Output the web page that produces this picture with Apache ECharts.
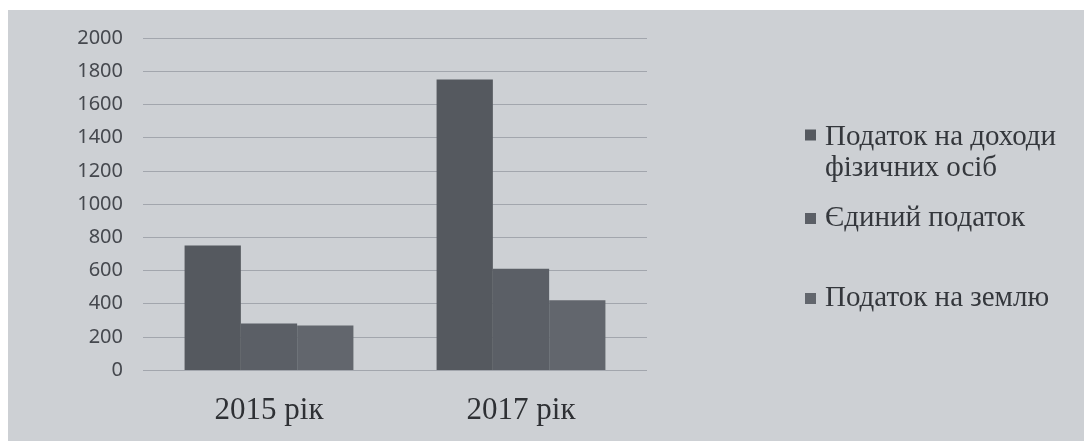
<!DOCTYPE html>
<html>
<head>
<meta charset="utf-8">
<script src="https://cdn.jsdelivr.net/npm/echarts@6/dist/echarts.min.js"></script>
<style>
  html, body { margin: 0; padding: 0; background: #ffffff; }
  #chart { width: 1084px; height: 441px; }
</style>
</head>
<body>
<div id="chart"></div>
<script>
var categories = ['2015 рік', '2017 рік'];
var seriesNames = ['Податок на доходи фізичних осіб', 'Єдиний податок', 'Податок на землю'];
var incomeTax = [750, 1750];
var singleTax = [280, 610];
var landTax = [268, 420];
var yTicks = [0, 200, 400, 600, 800, 1000, 1200, 1400, 1600, 1800, 2000];

var chart = echarts.init(document.getElementById('chart'));

// квадратик легенди, притиснутий до верхнього рядка тексту
var topSquare = 'path://M0,0L10,0L10,10L0,10Z M0,42.7L0.01,42.7L0.01,42.71Z';

var legendText = {
    fontFamily: 'Liberation Serif',
    fontSize: 29,
    color: '#34373c',
    lineHeight: 31,
    padding: [0, 0, 0, 4]
};

var option = {
    backgroundColor: '#ffffff',
    graphic: [{
        type: 'rect',
        z: -10,
        shape: { x: 8, y: 10, width: 1076, height: 431 },
        style: { fill: '#cdd0d4' },
        silent: true
    }],
    grid: { left: 143, right: 437, top: 38, bottom: 71 },
    legend: [
        {
            data: [seriesNames[0]],
            left: 800, top: 117,
            itemWidth: 11, itemHeight: 47,
            icon: topSquare,
            formatter: function () { return 'Податок на доходи\nфізичних осіб'; },
            textStyle: legendText
        },
        {
            data: [seriesNames[1]],
            left: 800, top: 198,
            itemWidth: 11, itemHeight: 11,
            icon: 'rect',
            textStyle: legendText
        },
        {
            data: [seriesNames[2]],
            left: 800, top: 278,
            itemWidth: 11, itemHeight: 11,
            icon: 'rect',
            textStyle: legendText
        }
    ],
    xAxis: {
        type: 'category',
        data: categories,
        axisLine: { show: false },
        axisTick: { show: false },
        axisLabel: {
            margin: 25,
            fontFamily: 'Liberation Serif',
            fontSize: 31,
            color: '#2e3034'
        }
    },
    yAxis: {
        type: 'value',
        min: 0,
        max: yTicks[yTicks.length - 1],
        interval: 200,
        axisLine: { show: false },
        axisTick: { show: false },
        axisLabel: {
            margin: 20,
            fontFamily: 'Noto Sans',
            fontSize: 20,
            color: '#45484e',
            formatter: function (v) { return String(v); }
        },
        splitLine: { lineStyle: { color: '#a2a6ad', width: 1 } }
    },
    series: [
        {
            name: seriesNames[0], type: 'bar', data: incomeTax,
            barGap: '0%', barCategoryGap: '33%',
            itemStyle: { color: '#55595f' }
        },
        {
            name: seriesNames[1], type: 'bar', data: singleTax,
            itemStyle: { color: '#5b5f66' }
        },
        {
            name: seriesNames[2], type: 'bar', data: landTax,
            itemStyle: { color: '#62666d' }
        }
    ]
};

chart.setOption(option);
</script>
</body>
</html>
